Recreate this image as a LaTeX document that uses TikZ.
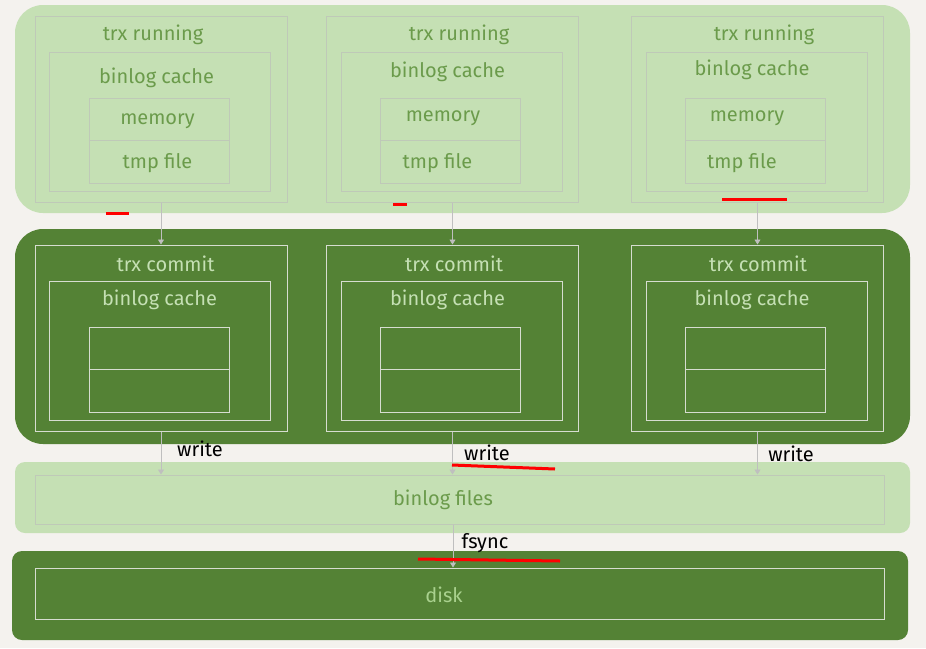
\documentclass[tikz,border=0pt]{standalone}
\usepackage{fontspec}
\setmainfont{Fira Sans}
\usetikzlibrary{arrows.meta}
\definecolor{bgc}{HTML}{F4F2EE}
\definecolor{lgreen}{HTML}{C5E0B4}
\definecolor{dgreen}{HTML}{548235}
\definecolor{ltext}{HTML}{6B9B4B}
\definecolor{dtext}{HTML}{C5E0B4}
\definecolor{lline}{HTML}{BFC9B8}
\definecolor{dline}{HTML}{D6DDD0}
\definecolor{arrc}{HTML}{BFBFBF}
\definecolor{disktext}{HTML}{A9D18E}
\definecolor{redmark}{HTML}{FF0000}
\tikzset{
  boxL/.style={draw=lline, line width=1pt, inner sep=0pt},
  boxD/.style={draw=dline, line width=1pt, inner sep=0pt},
  txt/.style={font=\fontsize{20}{24}\selectfont, inner sep=0pt},
  ltxt/.style={txt, text=ltext},
  dtxt/.style={txt, text=dtext},
  lbl/.style={txt, text=black},
  arr/.style={draw=arrc, line width=0.8pt, -{Triangle[width=6pt,length=5pt]}},
  redline/.style={draw=redmark, line width=3pt}
}
\begin{document}
\begin{tikzpicture}[x=1pt,y=-1pt]
\useasboundingbox (0,0) rectangle (926,648);
\fill[bgc] (0,0) rectangle (926,648);
% bands
\fill[lgreen, rounded corners=28pt] (15,5) rectangle (910,213);
\fill[dgreen, rounded corners=28pt] (15,229) rectangle (910,444);
\fill[lgreen, rounded corners=10pt] (15,462) rectangle (910,533);
\fill[dgreen, rounded corners=10pt] (12,551) rectangle (908,640);
% columns
\foreach \i/\cx/\rtx/\btx/\by/\mtx/\my/\ftx/\ctx/\cbx in
   {1/161/153/156.5/78/157.5/121/157.5/165.5/159.5,
    2/452.5/459/447.5/72/443/118/437.5/454/447.5,
    3/757.5/764/752/70/747/118/742/758/752} {
  % trx running
  \node[boxL, minimum width=252pt, minimum height=186pt] (r\i) at (\cx,109) {};
  \node[boxL, minimum width=221pt, minimum height=139pt] (rb\i) at (\cx-1,121.5) {};
  \node[boxL, minimum width=140pt, minimum height=85pt] (rm\i) at (\cx-2,140.5) {};
  \draw[lline, line width=1pt] (rm\i.west) -- (rm\i.east);
  \node[ltxt] (rt\i) at (\rtx,35) {trx running};
  \node[ltxt] (rbt\i) at (\btx,\by) {binlog cache};
  \node[ltxt] (rmt\i) at (\mtx,\my) {memory};
  \node[ltxt] (rft\i) at (\ftx,163) {tmp file};
  % trx commit
  \node[boxD, minimum width=252pt, minimum height=186pt] (c\i) at (\cx,338) {};
  \node[boxD, minimum width=221pt, minimum height=139pt] (cb\i) at (\cx-1,350.5) {};
  \node[boxD, minimum width=140pt, minimum height=85pt] (cm\i) at (\cx-2,369.5) {};
  \draw[dline, line width=1pt] (cm\i.west) -- (cm\i.east);
  \node[dtxt] (ct\i) at (\ctx,264) {trx commit};
  \node[dtxt] (cbt\i) at (\cbx,300) {binlog cache};
}
% binlog files and disk
\node[boxL, minimum width=849pt, minimum height=49pt] (bf) at (459.5,499.5) {};
\node[txt, text=ltext] (bft) at (443,500) {binlog files};
\node[boxD, minimum width=849pt, minimum height=51pt] (dk) at (459.5,593.5) {};
\node[txt, text=disktext] (dkt) at (444,595) {disk};
% arrows
\foreach \i in {1,2,3} {
  \draw[arr] (r\i.south) -- (c\i.north);
  \draw[arr] (c\i.south) -- (c\i.south |- bf.north);
}
\coordinate (fs) at (453,0);
\draw[arr] (fs |- bf.south) -- (fs |- dk.north);
% labels
\node[lbl] (w1) at (200,449) {write};
\node[lbl] (w2) at (487,453) {write};
\node[lbl] (w3) at (791,454) {write};
\node[lbl] (fsy) at (485,543) {fsync};
% red marks
\draw[redline] (106,213) -- (129,213);
\draw[redline] (393,204) -- (407,204);
\draw[redline] (722,199) -- (787,199);
\draw[redline] (452,465) -- (555,469);
\draw[redline] (418,559) -- (560,561);
\end{tikzpicture}
\end{document}
